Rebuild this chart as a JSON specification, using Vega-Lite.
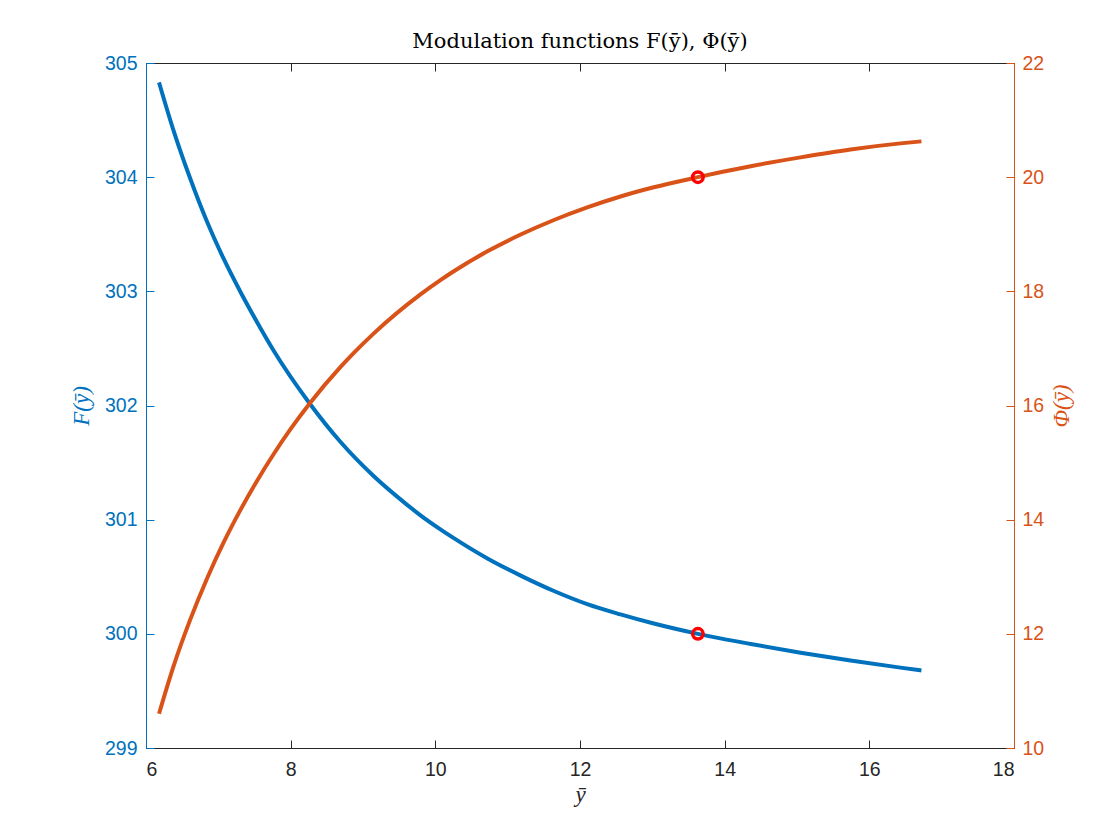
{
  "$schema": "https://vega.github.io/schema/vega-lite/v6.json",
  "width": 868,
  "height": 685,
  "autosize": {"type": "none"},
  "padding": {"left": 146, "top": 63, "right": 106, "bottom": 92},
  "background": "#ffffff",
  "config": {
    "view": {"stroke": "#262626", "strokeWidth": 1},
    "axis": {"grid": false, "labelFont": "Liberation Sans", "labelFontSize": 19.5, "titleFont": "Liberation Serif", "titleFontSize": 23, "titleFontStyle": "italic", "titleFontWeight": "normal", "tickSize": -8, "domainWidth": 1, "tickWidth": 1}
  },
  "title": {"text": "Modulation functions F(ȳ), Φ(ȳ)", "font": "DejaVu Serif", "fontSize": 21, "fontWeight": "normal", "color": "#000000", "anchor": "middle", "frame": "group", "offset": 1},
  "datasets": {
    "F": [
      {"ybar": 6.18, "F": 304.83},
      {"ybar": 6.38, "F": 304.41},
      {"ybar": 6.61, "F": 303.99},
      {"ybar": 6.85, "F": 303.6},
      {"ybar": 7.07, "F": 303.29},
      {"ybar": 7.31, "F": 302.99},
      {"ybar": 7.54, "F": 302.725},
      {"ybar": 7.77, "F": 302.475},
      {"ybar": 8.26, "F": 302.02},
      {"ybar": 8.69, "F": 301.68},
      {"ybar": 9.15, "F": 301.38},
      {"ybar": 9.61, "F": 301.13},
      {"ybar": 9.79, "F": 301.04},
      {"ybar": 10.07, "F": 300.915},
      {"ybar": 10.25, "F": 300.84},
      {"ybar": 10.72, "F": 300.66},
      {"ybar": 11.18, "F": 300.51},
      {"ybar": 11.64, "F": 300.375},
      {"ybar": 12.1, "F": 300.26},
      {"ybar": 12.56, "F": 300.17},
      {"ybar": 13.02, "F": 300.09},
      {"ybar": 13.63, "F": 300.0},
      {"ybar": 13.94, "F": 299.96},
      {"ybar": 14.36, "F": 299.911},
      {"ybar": 15.05, "F": 299.835},
      {"ybar": 15.74, "F": 299.766},
      {"ybar": 16.43, "F": 299.704},
      {"ybar": 16.72, "F": 299.679}
    ],
    "Phi": [
      {"ybar": 6.18, "Phi": 10.6},
      {"ybar": 6.38, "Phi": 11.43},
      {"ybar": 6.61, "Phi": 12.244},
      {"ybar": 6.85, "Phi": 12.988},
      {"ybar": 7.07, "Phi": 13.593},
      {"ybar": 7.31, "Phi": 14.181},
      {"ybar": 7.54, "Phi": 14.692},
      {"ybar": 7.77, "Phi": 15.159},
      {"ybar": 8.0, "Phi": 15.589},
      {"ybar": 8.26, "Phi": 16.031},
      {"ybar": 8.69, "Phi": 16.676},
      {"ybar": 8.87, "Phi": 16.917},
      {"ybar": 9.15, "Phi": 17.264},
      {"ybar": 9.79, "Phi": 17.942},
      {"ybar": 10.07, "Phi": 18.197},
      {"ybar": 10.25, "Phi": 18.348},
      {"ybar": 10.72, "Phi": 18.701},
      {"ybar": 11.18, "Phi": 18.995},
      {"ybar": 11.64, "Phi": 19.25},
      {"ybar": 12.1, "Phi": 19.471},
      {"ybar": 12.56, "Phi": 19.662},
      {"ybar": 13.02, "Phi": 19.823},
      {"ybar": 13.63, "Phi": 20.0},
      {"ybar": 13.94, "Phi": 20.085},
      {"ybar": 14.36, "Phi": 20.192},
      {"ybar": 15.05, "Phi": 20.347},
      {"ybar": 15.74, "Phi": 20.485},
      {"ybar": 16.43, "Phi": 20.592},
      {"ybar": 16.72, "Phi": 20.627}
    ],
    "marker": [
      {"ybar": 13.63, "F": 300.0, "Phi": 20.0}
    ]
  },
  "layer": [
    {
      "encoding": {
        "x": {"field": "ybar", "type": "quantitative", "scale": {"domain": [6, 18], "nice": false, "zero": false},
              "axis": {"orient": "bottom", "values": [6, 8, 10, 12, 14, 16, 18], "title": "ȳ", "domainColor": "#262626", "tickColor": "#262626", "labelColor": "#262626", "titleColor": "#262626", "labelPadding": 20, "titlePadding": 5}},
        "y": {"field": "F", "type": "quantitative", "scale": {"domain": [299, 305], "nice": false, "zero": false},
              "axis": {"orient": "left", "values": [299, 300, 301, 302, 303, 304, 305], "title": "F(ȳ)", "domainColor": "#0072BD", "tickColor": "#0072BD", "labelColor": "#0072BD", "titleColor": "#0072BD", "labelPadding": 17, "titlePadding": 11}}
      },
      "layer": [
        {"data": {"name": "F"}, "mark": {"type": "line", "color": "#0072BD", "strokeWidth": 4, "interpolate": "monotone"}},
        {"data": {"name": "marker"}, "mark": {"type": "point", "shape": "circle", "filled": false, "stroke": "#FF0000", "strokeWidth": 3.5, "size": 110, "opacity": 1}}
      ]
    },
    {
      "encoding": {
        "x": {"field": "ybar", "type": "quantitative", "scale": {"domain": [6, 18], "nice": false, "zero": false},
              "axis": {"orient": "top", "values": [6, 8, 10, 12, 14, 16, 18], "labels": false, "title": null, "domain": false, "tickColor": "#262626"}},
        "y": {"field": "Phi", "type": "quantitative", "scale": {"domain": [10, 22], "nice": false, "zero": false},
              "axis": {"orient": "right", "values": [10, 12, 14, 16, 18, 20, 22], "title": "Φ(ȳ)", "titleAngle": 270, "domainColor": "#D95319", "tickColor": "#D95319", "labelColor": "#D95319", "titleColor": "#D95319", "labelPadding": 16, "titlePadding": 30}}
      },
      "layer": [
        {"data": {"name": "Phi"}, "mark": {"type": "line", "color": "#D95319", "strokeWidth": 4, "interpolate": "monotone"}},
        {"data": {"name": "marker"}, "mark": {"type": "point", "shape": "circle", "filled": false, "stroke": "#FF0000", "strokeWidth": 3.5, "size": 110, "opacity": 1}}
      ]
    }
  ],
  "resolve": {"scale": {"y": "independent"}, "axis": {"y": "independent", "x": "independent"}}
}
